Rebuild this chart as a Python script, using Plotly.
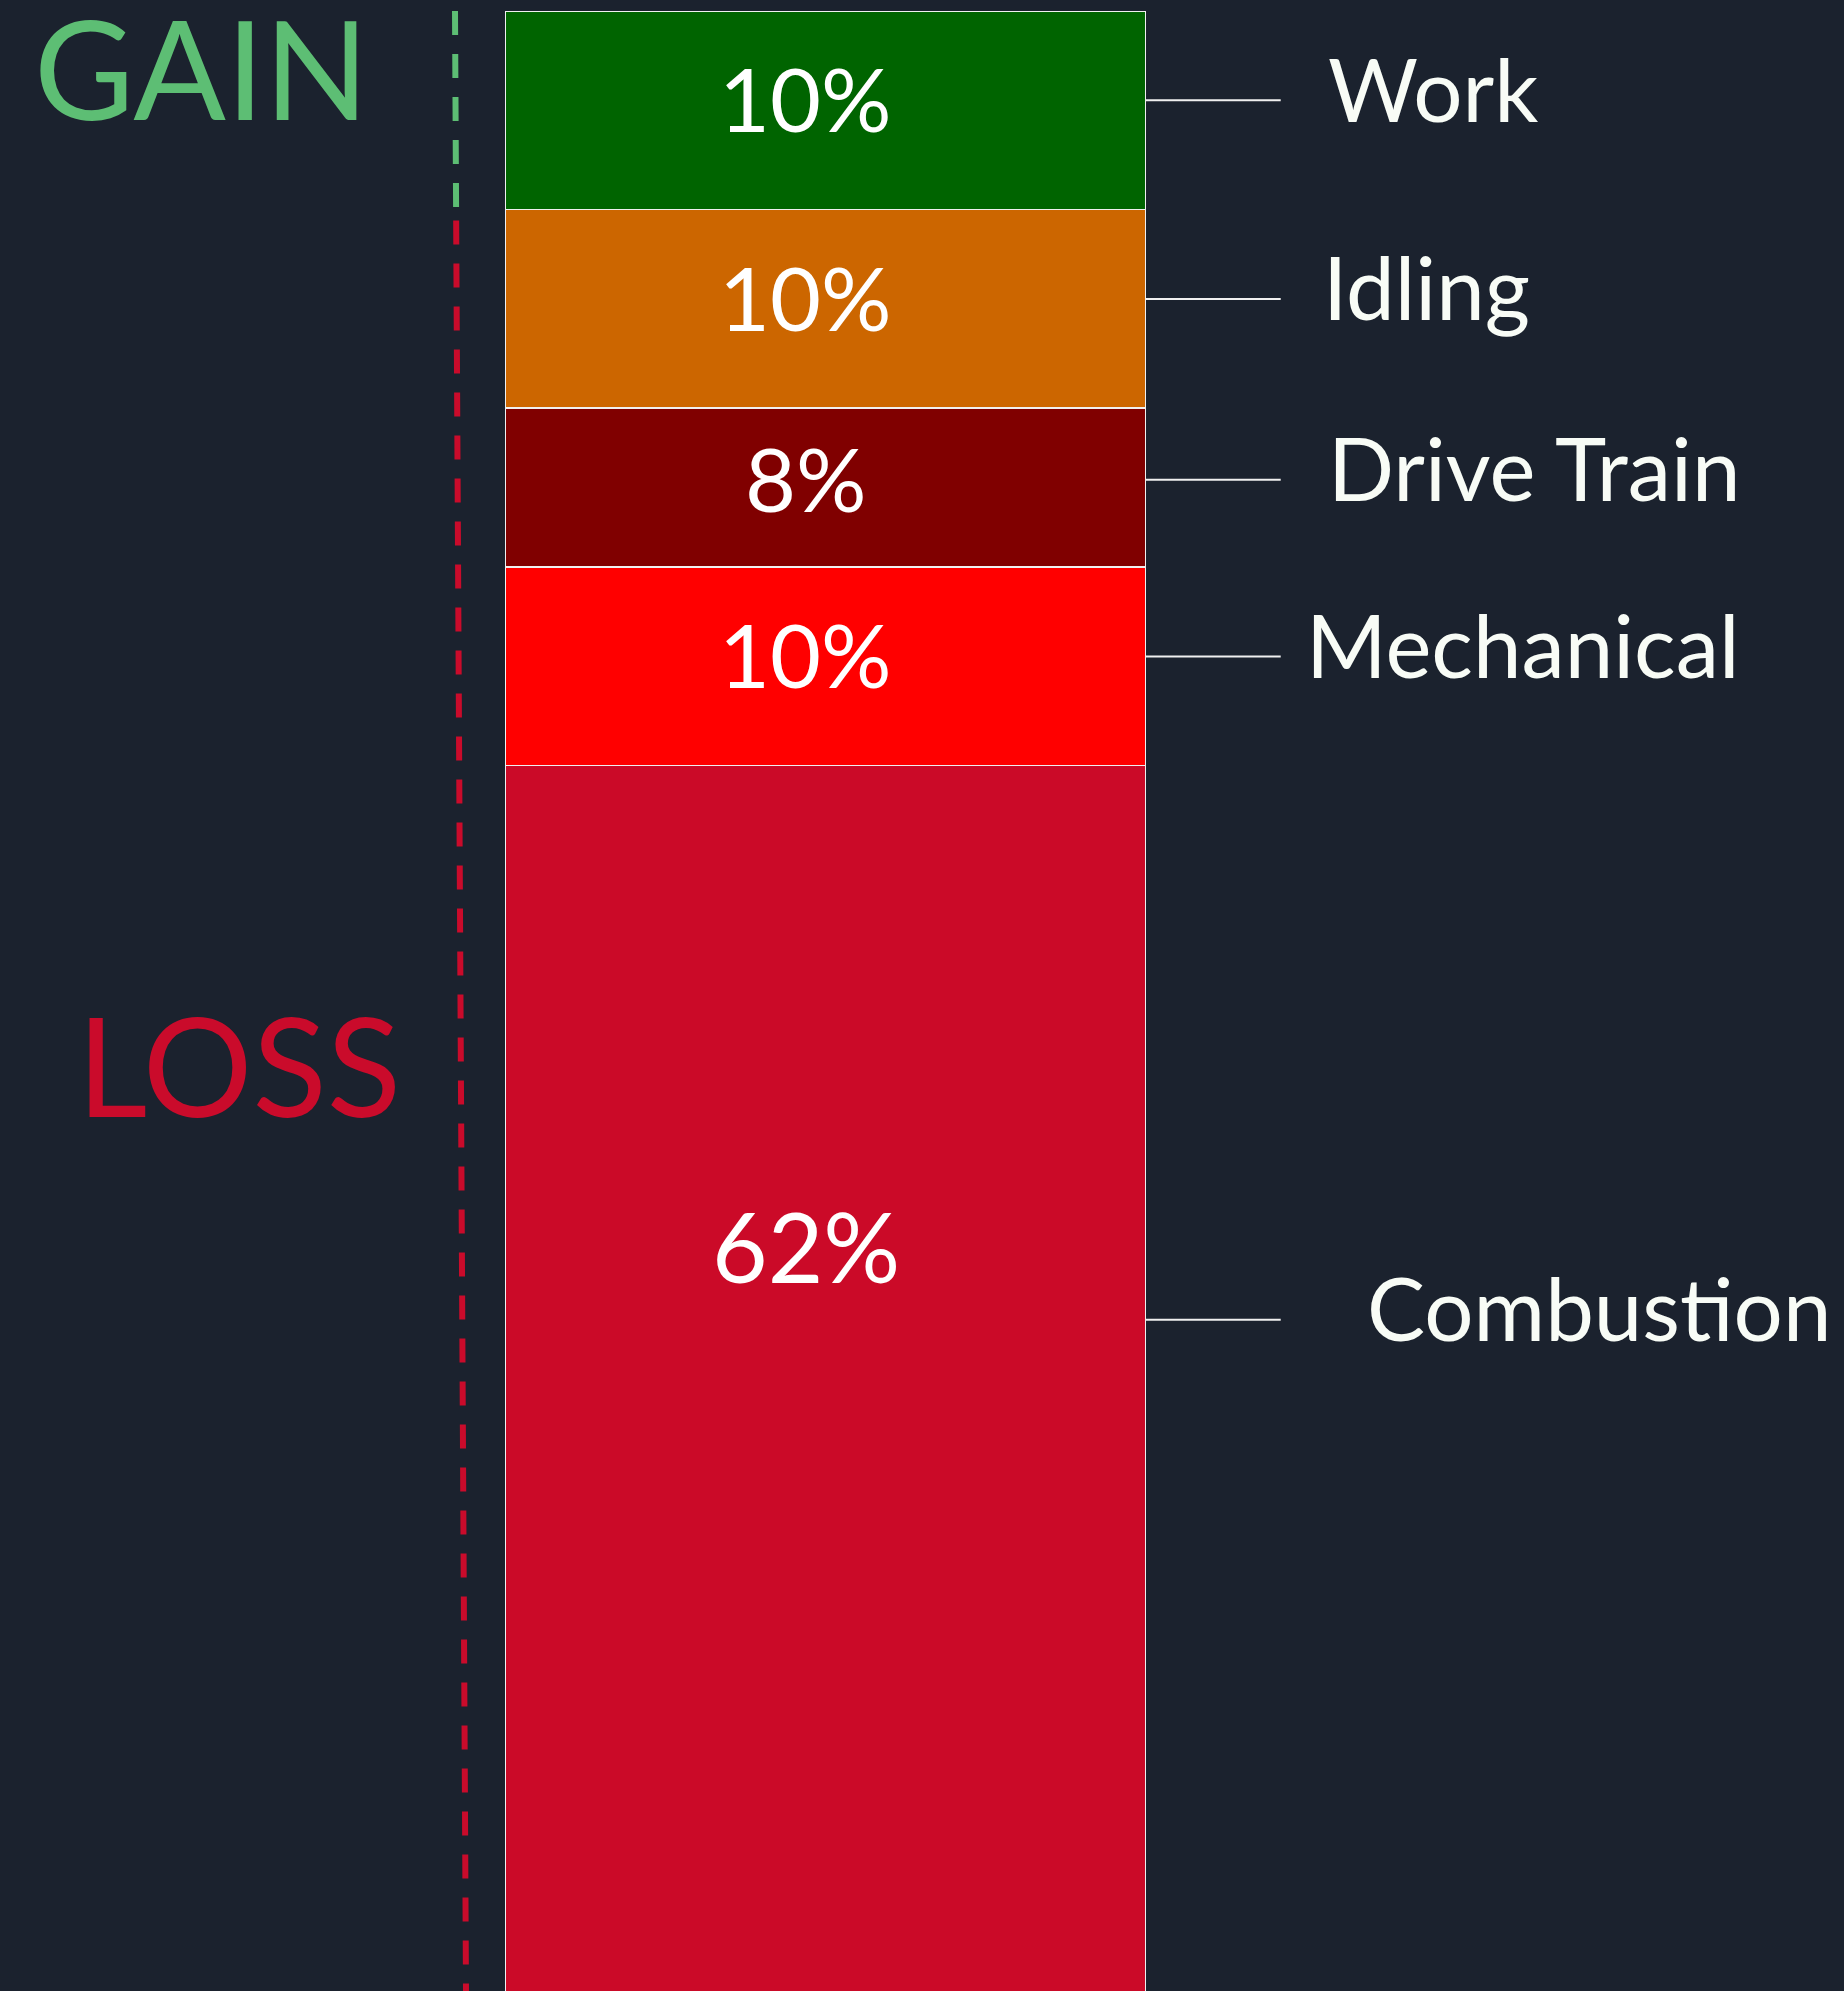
import plotly.graph_objects as go

# ---- data ----
categories = ["Work", "Idling", "Drive Train", "Mechanical", "Combustion"]
values = [10, 10, 8, 10, 62]
value_labels = ["10%", "10%", "8%", "10%", "62%"]
colors = ["#006400", "#CC6600", "#800000", "#FF0000", "#CB0A28"]
group_labels = ["GAIN", "LOSS"]
group_colors = ["#5DBE74", "#CA0B2B"]

# ---- layout constants ----
W, H = 1844, 1991
TOP = 11
Y_MAX = 99.7
BAR_W = 0.8
X_RANGE = [-1.0319, 1.2731]
BG = "#1B222E"
FONT = "Lato"
TXT = "#F8FCF6"
label_x_px = [1326, 1321, 1326, 1304, 1365]
group_pos_px = [(32, 67), (75, 1064)]
value_label_frac = [0.44, 0.44, 0.44, 0.44, 0.39]
value_label_size = [88, 88, 88, 88, 96]
connector_frac = 0.45


def px_to_paper_x(px):
    return px / W


def py_to_paper_y(py):
    return (H - py) / (H - TOP)


fig = go.Figure()

bases = []
acc = 0
for v in values:
    bases.append(acc)
    acc += v

for cat, v, col in zip(categories, values, colors):
    fig.add_trace(go.Bar(
        x=["Energy"], y=[v], name=cat, width=BAR_W,
        marker=dict(color=col, line=dict(color="#F0F0F0", width=1.5)),
        hoverinfo="skip",
    ))

# value labels inside the segments
for b, v, lab, fr, sz in zip(bases, values, value_labels, value_label_frac, value_label_size):
    fig.add_annotation(
        x=0, xref="x", y=b + v * fr, yref="y", xshift=-20,
        text=lab, showarrow=False,
        font=dict(family=FONT, size=sz, color="white"),
        xanchor="center", yanchor="middle",
    )

# connectors + category labels
for i, cat in enumerate(categories):
    yc = bases[i] + values[i] * connector_frac
    fig.add_shape(type="line", xref="x", yref="y",
                  x0=BAR_W / 2, x1=BAR_W / 2 + 0.169,
                  y0=yc, y1=yc,
                  line=dict(color="#F0F0F0", width=2))
    fig.add_annotation(
        x=px_to_paper_x(label_x_px[i]), xref="paper", y=yc, yref="y",
        text=cat, showarrow=False, xanchor="left", yanchor="middle", yshift=12,
        font=dict(family=FONT, size=87, color=TXT),
    )

# GAIN / LOSS labels
for (gx, gy), g, gc in zip(group_pos_px, group_labels, group_colors):
    fig.add_annotation(
        x=px_to_paper_x(gx), xref="paper", y=py_to_paper_y(gy), yref="paper",
        text=g, showarrow=False, xanchor="left", yanchor="middle",
        font=dict(family=FONT, size=137, color=gc),
    )

# dashed divider (slightly slanted), green over gain part, red over loss part
x_top, x_bot = 455 / W, 466 / W


def x_at(yv):
    return x_top + (x_bot - x_top) * (yv / Y_MAX)


split = values[0]
fig.add_shape(type="line", xref="paper", yref="y",
              x0=x_at(0), x1=x_at(split), y0=0, y1=split,
              line=dict(color=group_colors[0], width=6, dash="24px,19px"))
fig.add_shape(type="line", xref="paper", yref="y",
              x0=x_at(split), x1=x_at(Y_MAX), y0=split, y1=Y_MAX,
              line=dict(color=group_colors[1], width=6, dash="0px,11px,24px,8px"))

fig.update_layout(
    width=W, height=H,
    barmode="stack",
    showlegend=False,
    paper_bgcolor=BG, plot_bgcolor=BG,
    margin=dict(l=0, r=0, t=TOP, b=0),
    xaxis=dict(type="category", range=X_RANGE, visible=False, fixedrange=True),
    yaxis=dict(range=[Y_MAX, 0], visible=False, fixedrange=True),
)

fig.write_html(
    "out.html",
    config={"displayModeBar": False},
    post_script=(
        "document.body.style.margin='0';"
        "document.body.style.overflow='hidden';"
        "document.body.style.background='" + BG + "';"
    ),
)
